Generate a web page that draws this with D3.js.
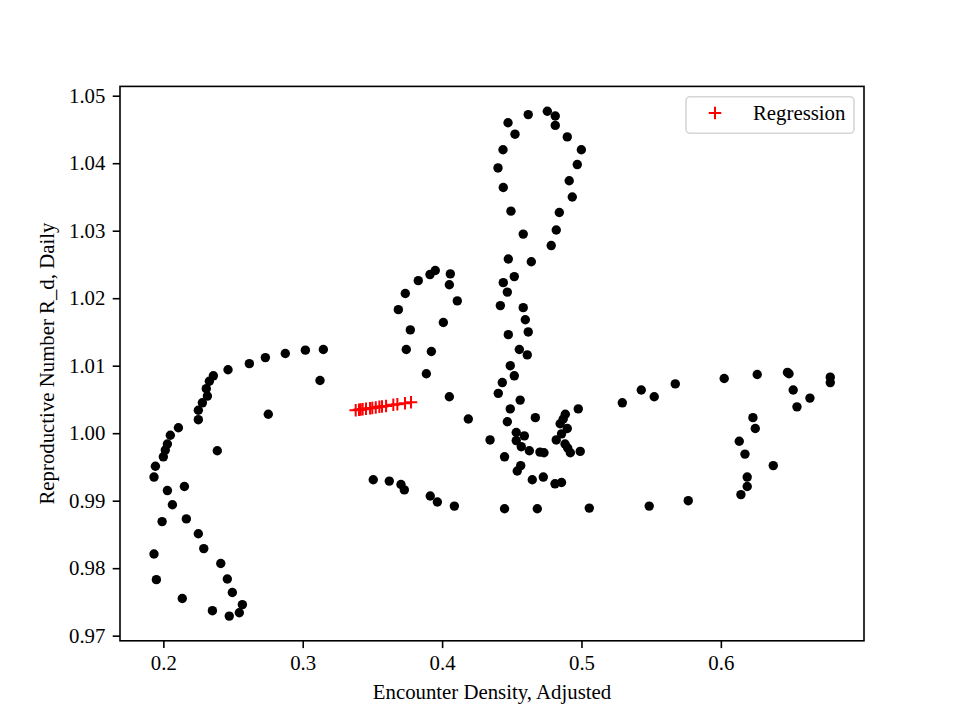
<!DOCTYPE html>
<html>
<head>
<meta charset="utf-8">
<script src="https://cdn.jsdelivr.net/npm/d3@7"></script>
<style>
  body { margin: 0; background: #fff; }
  svg { display: block; }
</style>
</head>
<body>
<div id="chart"></div>
<script>
// encounter density (x) and daily reproductive number (y)
var density = [
  // left arc
  0.3148, 0.3019, 0.2875, 0.2732, 0.2617, 0.2464, 0.2359, 0.2330, 0.2308, 0.2316,
  0.2280, 0.2251, 0.2251, 0.3124, 0.2753, 0.2108, 0.2050, 0.2029, 0.2014, 0.2000,
  0.1943, 0.1933, 0.2387, 0.2151, 0.2029, 0.2065, 0.1991, 0.2165, 0.2251, 0.2290,
  0.1933, 0.2412, 0.1950, 0.2459, 0.2495, 0.2136, 0.2567, 0.2545, 0.2352, 0.2473,
  // middle loop
  0.3951, 0.3913, 0.4059, 0.3829, 0.4052, 0.3736, 0.4109, 0.3686, 0.4009, 0.3772,
  0.3743, 0.3923, 0.3887, 0.4052, 0.4188, 0.3506, 0.3621, 0.3705, 0.3729, 0.3915,
  0.3966, 0.4088, 0.4344,
  // central column
  0.4618, 0.4755, 0.4812, 0.4812, 0.4473, 0.4523, 0.4898, 0.4437, 0.4999, 0.4970,
  0.4401, 0.4912, 0.4439, 0.4934, 0.4494, 0.4841, 0.4819, 0.4582, 0.4783, 0.4475,
  0.4640, 0.4518, 0.4439, 0.4468, 0.4418, 0.4582, 0.4597, 0.4618, 0.4475, 0.4554,
  0.4611, 0.4489, 0.4518, 0.4432, 0.4403, 0.4560, 0.4489, 0.4977, 0.4669, 0.4468,
  0.4884, 0.4869, 0.4847, 0.4898, 0.4532, 0.4590, 0.4857, 0.4819, 0.4532, 0.4568,
  0.4626, 0.4702, 0.4731, 0.4882, 0.4901, 0.4920, 0.4991, 0.4448, 0.4564, 0.4539,
  0.4647, 0.4726, 0.4810, 0.4857, 0.4448, 0.4683, 0.5056,
  // right group
  0.5293, 0.5429, 0.5522, 0.5673, 0.5486, 0.5766, 0.6024, 0.6261, 0.6478, 0.6489,
  0.6519, 0.6639, 0.6546, 0.6785, 0.6785, 0.6230, 0.6247, 0.6132, 0.6173, 0.6376,
  0.6189, 0.6189, 0.6144
];

var rdDaily = [
  1.0124, 1.0123, 1.0118, 1.0112, 1.0103, 1.0094, 1.0085, 1.0077, 1.0066, 1.0055,
  1.0045, 1.0034, 1.0020, 1.0078, 1.0028, 1.0008, 0.9997, 0.9984, 0.9975, 0.9965,
  0.9951, 0.9935, 0.9974, 0.9921, 0.9915, 0.9894, 0.9869, 0.9873, 0.9851, 0.9829,
  0.9821, 0.9807, 0.9783, 0.9784, 0.9764, 0.9755, 0.9746, 0.9734, 0.9737, 0.9729,
  1.0241, 1.0235, 1.0236, 1.0226, 1.0220, 1.0207, 1.0196, 1.0183, 1.0164, 1.0153,
  1.0124, 1.0121, 1.0088, 1.0054, 1.0021, 0.9931, 0.9929, 0.9924, 0.9916, 0.9907,
  0.9898, 0.9892, 0.9990,
  1.0472, 1.0477, 1.0470, 1.0456, 1.0460, 1.0443, 1.0439, 1.0420, 1.0420, 1.0398,
  1.0393, 1.0374, 1.0364, 1.0350, 1.0329, 1.0327, 1.0301, 1.0295, 1.0278, 1.0258,
  1.0254, 1.0232, 1.0223, 1.0209, 1.0189, 1.0186, 1.0168, 1.0150, 1.0146, 1.0124,
  1.0116, 1.0100, 1.0085, 1.0075, 1.0059, 1.0049, 1.0036, 1.0036, 1.0023, 1.0017,
  1.0028, 1.0021, 1.0014, 1.0007, 1.0001, 0.9996, 0.9999, 0.9990, 0.9989, 0.9980,
  0.9974, 0.9972, 0.9971, 0.9984, 0.9978, 0.9971, 0.9973, 0.9965, 0.9952, 0.9944,
  0.9931, 0.9935, 0.9925, 0.9927, 0.9888, 0.9888, 0.9889,
  1.0045, 1.0064, 1.0054, 1.0073, 0.9892, 0.9900, 1.0081, 1.0087, 1.0090, 1.0088,
  1.0064, 1.0052, 1.0039, 1.0083, 1.0075, 1.0023, 1.0007, 0.9988, 0.9969, 0.9952,
  0.9935, 0.9921, 0.9909
];

// regression predictions
var regDensity = [0.3380, 0.3404, 0.3416, 0.3430, 0.3454, 0.3483, 0.3499, 0.3524,
  0.3550, 0.3569, 0.3598, 0.3650, 0.3679, 0.3734, 0.3777];
var regRd = [1.00339, 1.00346, 1.00350, 1.00354, 1.00361, 1.00370, 1.00374, 1.00382,
  1.00390, 1.00395, 1.00404, 1.00420, 1.00428, 1.00445, 1.00458];

var xTicks = [0.2, 0.3, 0.4, 0.5, 0.6];
var yTicks = [0.97, 0.98, 0.99, 1.00, 1.01, 1.02, 1.03, 1.04, 1.05];

var W = 960, H = 720;
var plotL = 120, plotR = 864, plotT = 86.4, plotB = 640.8;
var font = "'Liberation Serif', 'Times New Roman', serif";
var fs = 20.8;

var svg = d3.select("#chart").append("svg")
  .attr("width", W).attr("height", H);

var x = d3.scaleLinear().domain([0.1689, 0.7027]).range([plotL, plotR]);
var y = d3.scaleLinear().domain([0.96924, 1.05138]).range([plotB, plotT]);

// axes
var xAxis = svg.append("g")
  .attr("transform", "translate(0," + plotB + ")")
  .call(d3.axisBottom(x).tickValues(xTicks).tickFormat(d3.format(".1f"))
    .tickSizeOuter(0).tickSize(7.3).tickPadding(7.3));

var yAxis = svg.append("g")
  .attr("transform", "translate(" + plotL + ",0)")
  .call(d3.axisLeft(y).tickValues(yTicks).tickFormat(d3.format(".2f"))
    .tickSizeOuter(0).tickSize(7.3).tickPadding(7.3));

[xAxis, yAxis].forEach(function(ax) {
  ax.select(".domain").remove();
  ax.attr("font-family", font).attr("font-size", fs);
  ax.selectAll(".tick line").attr("stroke", "#000").attr("stroke-width", 1.6);
  ax.selectAll(".tick text").attr("fill", "#000");
});

// points
svg.append("g").selectAll("circle")
  .data(density)
  .enter()
  .append("circle")
    .attr("cx", function(d) { return x(d); })
    .attr("cy", function(d, i) { return y(rdDaily[i]); })
    .attr("r", 4.7)
    .attr("fill", "#000");

// regression markers (matplotlib style "+")
function crossPath(s) {
  return "M" + (-s) + ",0H" + s + "M0," + (-s) + "V" + s;
}
svg.append("g").selectAll("path")
  .data(regDensity)
  .enter()
  .append("path")
    .attr("d", crossPath(6.25))
    .attr("transform", function(d, i) { return "translate(" + x(d) + "," + y(regRd[i]) + ")"; })
    .attr("stroke", "red")
    .attr("stroke-width", 2)
    .attr("fill", "none");

// frame
svg.append("rect")
  .attr("x", plotL).attr("y", plotT)
  .attr("width", plotR - plotL).attr("height", plotB - plotT)
  .attr("fill", "none")
  .attr("stroke", "#000")
  .attr("stroke-width", 1.6);

// axis labels
svg.append("text")
  .attr("x", (plotL + plotR) / 2).attr("y", 699)
  .attr("text-anchor", "middle")
  .attr("font-family", font).attr("font-size", fs)
  .text("Encounter Density, Adjusted");

svg.append("text")
  .attr("transform", "translate(" + 54 + "," + ((plotT + plotB) / 2) + ") rotate(-90)")
  .attr("text-anchor", "middle")
  .attr("font-family", font).attr("font-size", fs)
  .text("Reproductive Number R_d, Daily");

// legend
var legend = svg.append("g");
legend.append("rect")
  .attr("x", 686).attr("y", 96.7)
  .attr("width", 168).attr("height", 36.6)
  .attr("rx", 4).attr("ry", 4)
  .attr("fill", "#fff")
  .attr("stroke", "#d6d6d6")
  .attr("stroke-width", 1.6);
legend.append("path")
  .attr("d", crossPath(6.25))
  .attr("transform", "translate(715,113)")
  .attr("stroke", "red").attr("stroke-width", 2).attr("fill", "none");
legend.append("text")
  .attr("x", 753).attr("y", 120)
  .attr("font-family", font).attr("font-size", fs)
  .text("Regression");
</script>
</body>
</html>
